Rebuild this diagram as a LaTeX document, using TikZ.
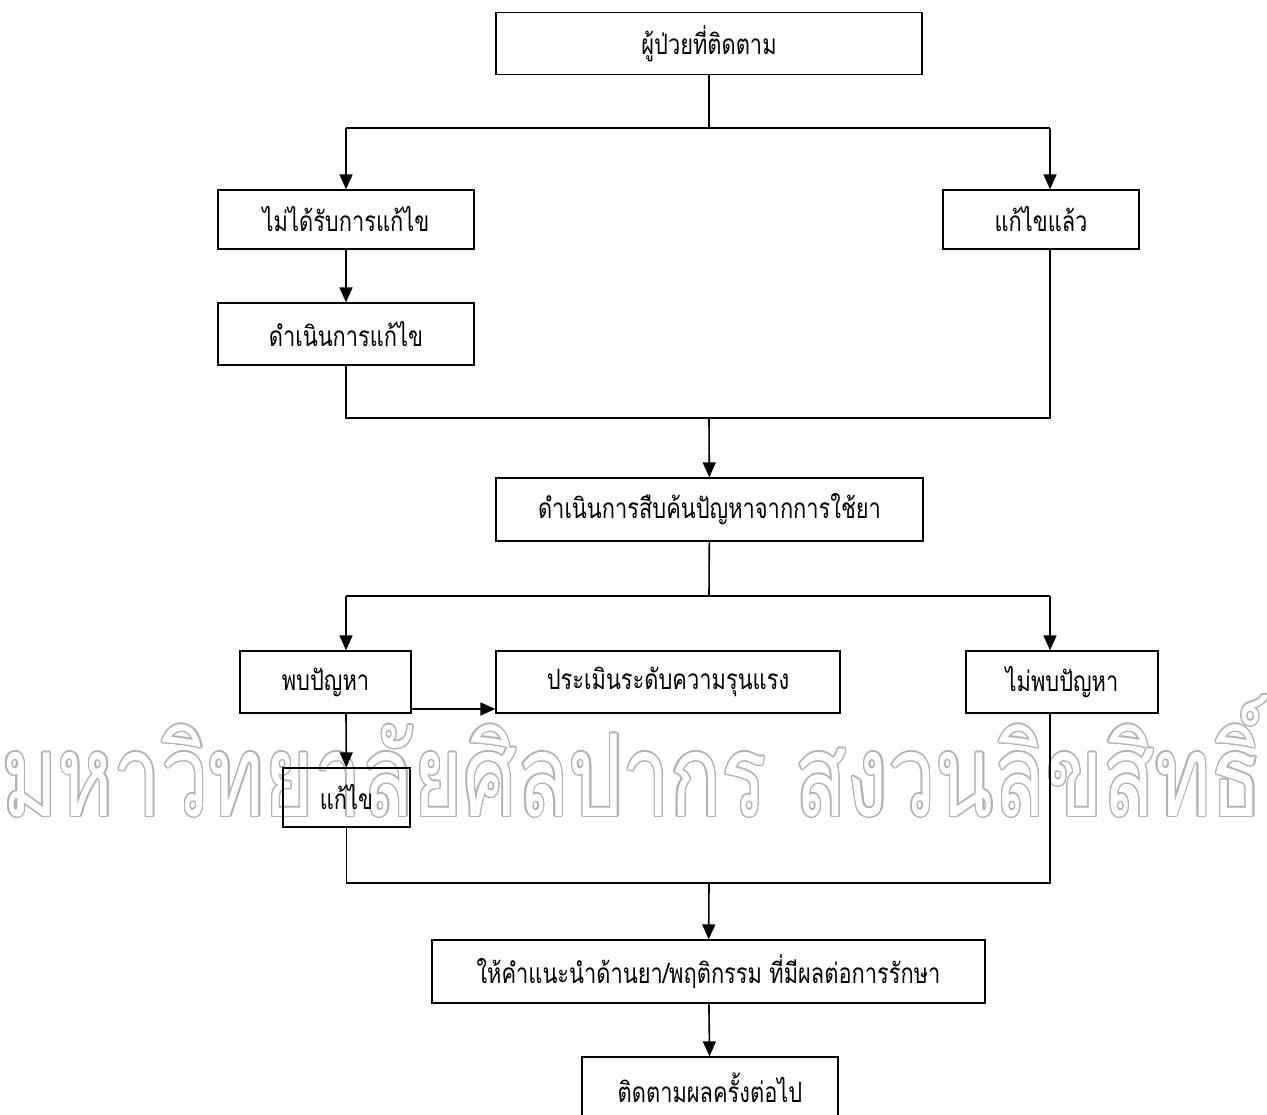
\documentclass[tikz,border=0pt]{standalone}
\usepackage{fontspec}
\newfontfamily\thaifont[Script=Thai,FakeStretch=0.78]{Loma}
\usepackage{graphicx}
\usepackage{contour}
\usetikzlibrary{arrows.meta}

\tikzset{
  box/.style={draw, line width=1.3pt, inner sep=0pt,
    font=\thaifont\fontsize{28}{32}\selectfont},
  line/.style={line width=1.6pt},
  flow/.style={line width=1.6pt, -{Triangle[length=15pt,width=13pt]}},
}

\begin{document}
\begin{tikzpicture}[x=1pt,y=-1pt]
  \useasboundingbox (0,0) rectangle (1267,1115);

  % watermark
  \contourlength{0.12pt}
  \node[anchor=north west, inner sep=0pt] (mark) at (2,695)
    {\resizebox*{1260pt}{123pt}{\contour{gray!60}{\color{white}\thaifont มหาวิทยาลัยศิลปากร สงวนลิขสิทธิ์}}};

  % boxes
  \node[box, minimum width=426pt, minimum height=62pt] (patient) at (709,43.5) {ผู้ป่วยที่ติดตาม};
  \node[box, minimum width=256pt, minimum height=59pt] (notfixed) at (346,219.5) {ไม่ได้รับการแก้ไข};
  \node[box, minimum width=196pt, minimum height=59pt] (fixed) at (1041,219.5) {แก้ไขแล้ว};
  \node[box, minimum width=256pt, minimum height=62pt] (doing) at (346,334) {ดำเนินการแก้ไข};
  \node[box, minimum width=427pt, minimum height=63pt] (probe) at (709.5,509.5) {ดำเนินการสืบค้นปัญหาจากการใช้ยา};
  \node[box, minimum width=171pt, minimum height=62pt] (found) at (325.5,682) {พบปัญหา};
  \node[box, minimum width=344pt, minimum height=62pt] (assess) at (668,682) {ประเมินระดับความรุนแรง};
  \node[box, minimum width=192pt, minimum height=62pt] (notfound) at (1062,682) {ไม่พบปัญหา};
  \node[box, minimum width=127pt, minimum height=59pt] (fix) at (346.5,797.5) {แก้ไข};
  \node[box, minimum width=553pt, minimum height=63pt] (advise) at (708.5,971.5) {ให้คำแนะนำด้านยา/พฤติกรรม ที่มีผลต่อการรักษา};
  \node[box, minimum width=256pt, minimum height=62pt] (follow) at (710,1088) {ติดตามผลครั้งต่อไป};

  % junctions
  \coordinate (j1) at (709,128);
  \coordinate (j1l) at (346,128);
  \coordinate (j1r) at (1050,128);
  \coordinate (j2) at (709,418);
  \coordinate (j2r) at (1050,418);
  \coordinate (j3) at (709,596);
  \coordinate (j3l) at (346,596);
  \coordinate (j3r) at (1050,596);
  \coordinate (j4) at (709,883);
  \coordinate (j4r) at (1050,883);
  \coordinate (a1) at (411,709);

  % connectors
  \draw[line] (patient) -- (j1);
  \draw[line] (j1l) -- (j1r);
  \draw[flow] (j1l) -- (notfixed);
  \draw[flow] (j1r) -- (j1r |- fixed.north);
  \draw[flow] (notfixed) -- (doing);
  \draw[line] (doing.south) |- (j2r) -- (j2r |- fixed.south);
  \draw[flow] (j2) -- (probe);

  \draw[line] (probe) -- (j3);
  \draw[line] (j3l) -- (j3r);
  \draw[flow] (j3l) -- (j3l |- found.north);
  \draw[flow] (j3r) -- (j3r |- notfound.north);
  \draw[flow] (a1) -- (a1 -| assess.west);
  \draw[flow] (j3l |- found.south) -- (fix);
  \draw[line] (fix.south) |- (j4r) -- (j4r |- notfound.south);
  \draw[flow] (j4) -- (advise);
  \draw[flow] (advise) -- (follow);
\end{tikzpicture}
\end{document}
